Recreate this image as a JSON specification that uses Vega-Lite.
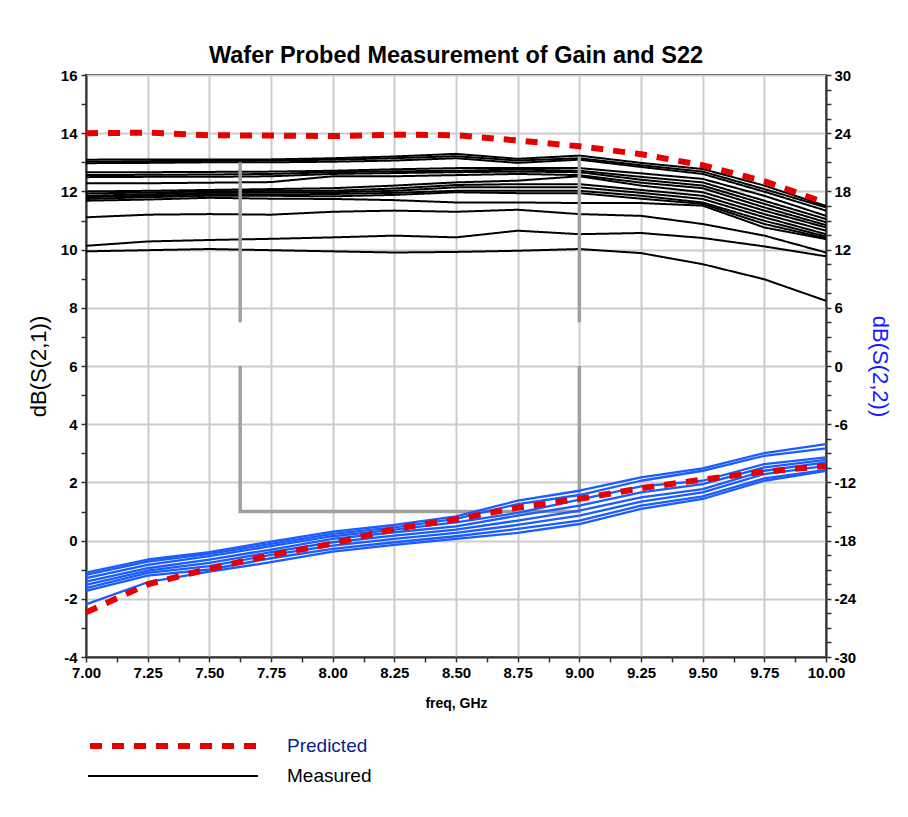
{
  "$schema": "https://vega.github.io/schema/vega-lite/v6.json",
  "width": 740,
  "height": 582,
  "autosize": {"type": "none"},
  "padding": {"left": 86, "top": 75, "right": 82, "bottom": 160},
  "background": "white",
  "title": {
    "text": "Wafer Probed Measurement of Gain and S22",
    "font": "Liberation Sans",
    "fontSize": 23.5,
    "fontWeight": "bold",
    "color": "black",
    "anchor": "middle",
    "offset": 1
  },
  "config": {
    "font": "Liberation Sans",
    "view": {"stroke": "#222222", "strokeWidth": 2},
    "axis": {
      "labelFont": "Liberation Sans",
      "labelFontWeight": "bold",
      "labelFontSize": 15,
      "labelColor": "black",
      "labelOverlap": false,
      "labelFlush": false,
      "domainColor": "#333333",
      "domainWidth": 2,
      "tickColor": "#333333",
      "tickWidth": 1.5,
      "tickSize": 5,
      "gridColor": "#cccccc",
      "gridWidth": 2,
      "titleFont": "Liberation Sans",
      "titleColor": "black"
    },
    "legend": {
      "orient": "none",
      "legendX": 1,
      "padding": 0,
      "symbolType": "stroke",
      "symbolSize": 28900,
      "clipHeight": 20,
      "labelFont": "Liberation Sans",
      "labelFontSize": 19,
      "title": null
    }
  },
  "datasets": {
    "gainMeas": [
      {"f": 7, "v": 13.09, "trace": "W01"}, {"f": 7.25, "v": 13.1, "trace": "W01"}, {"f": 7.5, "v": 13.1, "trace": "W01"}, {"f": 7.75, "v": 13.1, "trace": "W01"}, {"f": 8, "v": 13.14, "trace": "W01"}, {"f": 8.25, "v": 13.2, "trace": "W01"}, {"f": 8.5, "v": 13.29, "trace": "W01"}, {"f": 8.75, "v": 13.12, "trace": "W01"}, {"f": 9, "v": 13.23, "trace": "W01"}, {"f": 9.25, "v": 12.98, "trace": "W01"}, {"f": 9.5, "v": 12.77, "trace": "W01"}, {"f": 9.75, "v": 12.2, "trace": "W01"}, {"f": 10, "v": 11.5, "trace": "W01"},
      {"f": 7, "v": 13.02, "trace": "W02"}, {"f": 7.25, "v": 13.04, "trace": "W02"}, {"f": 7.5, "v": 13.05, "trace": "W02"}, {"f": 7.75, "v": 13.06, "trace": "W02"}, {"f": 8, "v": 13.09, "trace": "W02"}, {"f": 8.25, "v": 13.14, "trace": "W02"}, {"f": 8.5, "v": 13.21, "trace": "W02"}, {"f": 8.75, "v": 13.06, "trace": "W02"}, {"f": 9, "v": 13.14, "trace": "W02"}, {"f": 9.25, "v": 12.9, "trace": "W02"}, {"f": 9.5, "v": 12.68, "trace": "W02"}, {"f": 9.75, "v": 12.08, "trace": "W02"}, {"f": 10, "v": 11.45, "trace": "W02"},
      {"f": 7, "v": 12.97, "trace": "W03"}, {"f": 7.25, "v": 12.98, "trace": "W03"}, {"f": 7.5, "v": 13.0, "trace": "W03"}, {"f": 7.75, "v": 13.0, "trace": "W03"}, {"f": 8, "v": 13.02, "trace": "W03"}, {"f": 8.25, "v": 13.06, "trace": "W03"}, {"f": 8.5, "v": 13.14, "trace": "W03"}, {"f": 8.75, "v": 12.98, "trace": "W03"}, {"f": 9, "v": 13.09, "trace": "W03"}, {"f": 9.25, "v": 12.84, "trace": "W03"}, {"f": 9.5, "v": 12.6, "trace": "W03"}, {"f": 9.75, "v": 11.99, "trace": "W03"}, {"f": 10, "v": 11.34, "trace": "W03"},
      {"f": 7, "v": 12.66, "trace": "W04"}, {"f": 7.25, "v": 12.66, "trace": "W04"}, {"f": 7.5, "v": 12.67, "trace": "W04"}, {"f": 7.75, "v": 12.68, "trace": "W04"}, {"f": 8, "v": 12.71, "trace": "W04"}, {"f": 8.25, "v": 12.76, "trace": "W04"}, {"f": 8.5, "v": 12.8, "trace": "W04"}, {"f": 8.75, "v": 12.8, "trace": "W04"}, {"f": 9, "v": 12.8, "trace": "W04"}, {"f": 9.25, "v": 12.62, "trace": "W04"}, {"f": 9.5, "v": 12.43, "trace": "W04"}, {"f": 9.75, "v": 11.85, "trace": "W04"}, {"f": 10, "v": 11.16, "trace": "W04"},
      {"f": 7, "v": 12.56, "trace": "W05"}, {"f": 7.25, "v": 12.57, "trace": "W05"}, {"f": 7.5, "v": 12.58, "trace": "W05"}, {"f": 7.75, "v": 12.6, "trace": "W05"}, {"f": 8, "v": 12.66, "trace": "W05"}, {"f": 8.25, "v": 12.69, "trace": "W05"}, {"f": 8.5, "v": 12.71, "trace": "W05"}, {"f": 8.75, "v": 12.75, "trace": "W05"}, {"f": 9, "v": 12.71, "trace": "W05"}, {"f": 9.25, "v": 12.5, "trace": "W05"}, {"f": 9.5, "v": 12.31, "trace": "W05"}, {"f": 9.75, "v": 11.68, "trace": "W05"}, {"f": 10, "v": 11.05, "trace": "W05"},
      {"f": 7, "v": 12.49, "trace": "W06"}, {"f": 7.25, "v": 12.5, "trace": "W06"}, {"f": 7.5, "v": 12.5, "trace": "W06"}, {"f": 7.75, "v": 12.52, "trace": "W06"}, {"f": 8, "v": 12.6, "trace": "W06"}, {"f": 8.25, "v": 12.63, "trace": "W06"}, {"f": 8.5, "v": 12.66, "trace": "W06"}, {"f": 8.75, "v": 12.68, "trace": "W06"}, {"f": 9, "v": 12.66, "trace": "W06"}, {"f": 9.25, "v": 12.4, "trace": "W06"}, {"f": 9.5, "v": 12.2, "trace": "W06"}, {"f": 9.75, "v": 11.57, "trace": "W06"}, {"f": 10, "v": 10.94, "trace": "W06"},
      {"f": 7, "v": 12.28, "trace": "W07"}, {"f": 7.25, "v": 12.28, "trace": "W07"}, {"f": 7.5, "v": 12.3, "trace": "W07"}, {"f": 7.75, "v": 12.32, "trace": "W07"}, {"f": 8, "v": 12.52, "trace": "W07"}, {"f": 8.25, "v": 12.52, "trace": "W07"}, {"f": 8.5, "v": 12.56, "trace": "W07"}, {"f": 8.75, "v": 12.6, "trace": "W07"}, {"f": 9, "v": 12.56, "trace": "W07"}, {"f": 9.25, "v": 12.3, "trace": "W07"}, {"f": 9.5, "v": 12.11, "trace": "W07"}, {"f": 9.75, "v": 11.45, "trace": "W07"}, {"f": 10, "v": 10.84, "trace": "W07"},
      {"f": 7, "v": 12.0, "trace": "W08"}, {"f": 7.25, "v": 12.02, "trace": "W08"}, {"f": 7.5, "v": 12.05, "trace": "W08"}, {"f": 7.75, "v": 12.08, "trace": "W08"}, {"f": 8, "v": 12.11, "trace": "W08"}, {"f": 8.25, "v": 12.2, "trace": "W08"}, {"f": 8.5, "v": 12.31, "trace": "W08"}, {"f": 8.75, "v": 12.37, "trace": "W08"}, {"f": 9, "v": 12.52, "trace": "W08"}, {"f": 9.25, "v": 12.2, "trace": "W08"}, {"f": 9.5, "v": 11.97, "trace": "W08"}, {"f": 9.75, "v": 11.34, "trace": "W08"}, {"f": 10, "v": 10.76, "trace": "W08"},
      {"f": 7, "v": 11.93, "trace": "W09"}, {"f": 7.25, "v": 11.96, "trace": "W09"}, {"f": 7.5, "v": 12.0, "trace": "W09"}, {"f": 7.75, "v": 12.02, "trace": "W09"}, {"f": 8, "v": 12.02, "trace": "W09"}, {"f": 8.25, "v": 12.1, "trace": "W09"}, {"f": 8.5, "v": 12.22, "trace": "W09"}, {"f": 8.75, "v": 12.25, "trace": "W09"}, {"f": 9, "v": 12.25, "trace": "W09"}, {"f": 9.25, "v": 12.05, "trace": "W09"}, {"f": 9.5, "v": 11.85, "trace": "W09"}, {"f": 9.75, "v": 11.22, "trace": "W09"}, {"f": 10, "v": 10.65, "trace": "W09"},
      {"f": 7, "v": 11.85, "trace": "W10"}, {"f": 7.25, "v": 11.9, "trace": "W10"}, {"f": 7.5, "v": 11.95, "trace": "W10"}, {"f": 7.75, "v": 11.97, "trace": "W10"}, {"f": 8, "v": 11.97, "trace": "W10"}, {"f": 8.25, "v": 12.02, "trace": "W10"}, {"f": 8.5, "v": 12.14, "trace": "W10"}, {"f": 8.75, "v": 12.14, "trace": "W10"}, {"f": 9, "v": 12.14, "trace": "W10"}, {"f": 9.25, "v": 11.95, "trace": "W10"}, {"f": 9.5, "v": 11.74, "trace": "W10"}, {"f": 9.75, "v": 11.11, "trace": "W10"}, {"f": 10, "v": 10.53, "trace": "W10"},
      {"f": 7, "v": 11.8, "trace": "W11"}, {"f": 7.25, "v": 11.85, "trace": "W11"}, {"f": 7.5, "v": 11.9, "trace": "W11"}, {"f": 7.75, "v": 11.9, "trace": "W11"}, {"f": 8, "v": 11.91, "trace": "W11"}, {"f": 8.25, "v": 11.95, "trace": "W11"}, {"f": 8.5, "v": 12.02, "trace": "W11"}, {"f": 8.75, "v": 12.02, "trace": "W11"}, {"f": 9, "v": 12.02, "trace": "W11"}, {"f": 9.25, "v": 11.85, "trace": "W11"}, {"f": 9.5, "v": 11.62, "trace": "W11"}, {"f": 9.75, "v": 10.99, "trace": "W11"}, {"f": 10, "v": 10.45, "trace": "W11"},
      {"f": 7, "v": 11.74, "trace": "W12"}, {"f": 7.25, "v": 11.8, "trace": "W12"}, {"f": 7.5, "v": 11.85, "trace": "W12"}, {"f": 7.75, "v": 11.85, "trace": "W12"}, {"f": 8, "v": 11.83, "trace": "W12"}, {"f": 8.25, "v": 11.88, "trace": "W12"}, {"f": 8.5, "v": 11.97, "trace": "W12"}, {"f": 8.75, "v": 11.94, "trace": "W12"}, {"f": 9, "v": 11.94, "trace": "W12"}, {"f": 9.25, "v": 11.75, "trace": "W12"}, {"f": 9.5, "v": 11.57, "trace": "W12"}, {"f": 9.75, "v": 10.88, "trace": "W12"}, {"f": 10, "v": 10.39, "trace": "W12"},
      {"f": 7, "v": 11.68, "trace": "W13"}, {"f": 7.25, "v": 11.72, "trace": "W13"}, {"f": 7.5, "v": 11.78, "trace": "W13"}, {"f": 7.75, "v": 11.75, "trace": "W13"}, {"f": 8, "v": 11.74, "trace": "W13"}, {"f": 8.25, "v": 11.7, "trace": "W13"}, {"f": 8.5, "v": 11.62, "trace": "W13"}, {"f": 8.75, "v": 11.62, "trace": "W13"}, {"f": 9, "v": 11.6, "trace": "W13"}, {"f": 9.25, "v": 11.6, "trace": "W13"}, {"f": 9.5, "v": 11.51, "trace": "W13"}, {"f": 9.75, "v": 10.76, "trace": "W13"}, {"f": 10, "v": 10.36, "trace": "W13"},
      {"f": 7, "v": 11.11, "trace": "W14"}, {"f": 7.25, "v": 11.2, "trace": "W14"}, {"f": 7.5, "v": 11.22, "trace": "W14"}, {"f": 7.75, "v": 11.2, "trace": "W14"}, {"f": 8, "v": 11.3, "trace": "W14"}, {"f": 8.25, "v": 11.34, "trace": "W14"}, {"f": 8.5, "v": 11.3, "trace": "W14"}, {"f": 8.75, "v": 11.37, "trace": "W14"}, {"f": 9, "v": 11.22, "trace": "W14"}, {"f": 9.25, "v": 11.16, "trace": "W14"}, {"f": 9.5, "v": 10.88, "trace": "W14"}, {"f": 9.75, "v": 10.48, "trace": "W14"}, {"f": 10, "v": 9.9, "trace": "W14"},
      {"f": 7, "v": 10.13, "trace": "W15"}, {"f": 7.25, "v": 10.28, "trace": "W15"}, {"f": 7.5, "v": 10.33, "trace": "W15"}, {"f": 7.75, "v": 10.37, "trace": "W15"}, {"f": 8, "v": 10.42, "trace": "W15"}, {"f": 8.25, "v": 10.48, "trace": "W15"}, {"f": 8.5, "v": 10.42, "trace": "W15"}, {"f": 8.75, "v": 10.65, "trace": "W15"}, {"f": 9, "v": 10.53, "trace": "W15"}, {"f": 9.25, "v": 10.57, "trace": "W15"}, {"f": 9.5, "v": 10.4, "trace": "W15"}, {"f": 9.75, "v": 10.11, "trace": "W15"}, {"f": 10, "v": 9.77, "trace": "W15"},
      {"f": 7, "v": 9.94, "trace": "W16"}, {"f": 7.25, "v": 9.98, "trace": "W16"}, {"f": 7.5, "v": 10.02, "trace": "W16"}, {"f": 7.75, "v": 9.98, "trace": "W16"}, {"f": 8, "v": 9.94, "trace": "W16"}, {"f": 8.25, "v": 9.9, "trace": "W16"}, {"f": 8.5, "v": 9.92, "trace": "W16"}, {"f": 8.75, "v": 9.96, "trace": "W16"}, {"f": 9, "v": 10.02, "trace": "W16"}, {"f": 9.25, "v": 9.88, "trace": "W16"}, {"f": 9.5, "v": 9.5, "trace": "W16"}, {"f": 9.75, "v": 8.98, "trace": "W16"}, {"f": 10, "v": 8.24, "trace": "W16"}
    ],
    "gainPred": [
      {"f": 7, "v": 14.0}, {"f": 7.25, "v": 14.02}, {"f": 7.5, "v": 13.93}, {"f": 7.75, "v": 13.92}, {"f": 8, "v": 13.9}, {"f": 8.25, "v": 13.95}, {"f": 8.5, "v": 13.93}, {"f": 8.75, "v": 13.75}, {"f": 9, "v": 13.55}, {"f": 9.25, "v": 13.28}, {"f": 9.5, "v": 12.9}, {"f": 9.75, "v": 12.35}, {"f": 10, "v": 11.6}
    ],
    "s22Meas": [
      {"f": 7, "v": -21.3, "trace": "W01"}, {"f": 7.25, "v": -19.95, "trace": "W01"}, {"f": 7.5, "v": -19.2, "trace": "W01"}, {"f": 7.75, "v": -18.1, "trace": "W01"}, {"f": 8, "v": -17.07, "trace": "W01"}, {"f": 8.25, "v": -16.39, "trace": "W01"}, {"f": 8.5, "v": -15.5, "trace": "W01"}, {"f": 8.75, "v": -13.89, "trace": "W01"}, {"f": 9, "v": -12.86, "trace": "W01"}, {"f": 9.25, "v": -11.49, "trace": "W01"}, {"f": 9.5, "v": -10.56, "trace": "W01"}, {"f": 9.75, "v": -8.98, "trace": "W01"}, {"f": 10, "v": -8.06, "trace": "W01"},
      {"f": 7, "v": -21.53, "trace": "W02"}, {"f": 7.25, "v": -20.16, "trace": "W02"}, {"f": 7.5, "v": -19.37, "trace": "W02"}, {"f": 7.75, "v": -18.34, "trace": "W02"}, {"f": 8, "v": -17.31, "trace": "W02"}, {"f": 8.25, "v": -16.63, "trace": "W02"}, {"f": 8.5, "v": -15.77, "trace": "W02"}, {"f": 8.75, "v": -14.23, "trace": "W02"}, {"f": 9, "v": -13.3, "trace": "W02"}, {"f": 9.25, "v": -11.83, "trace": "W02"}, {"f": 9.5, "v": -10.8, "trace": "W02"}, {"f": 9.75, "v": -9.26, "trace": "W02"}, {"f": 10, "v": -8.5, "trace": "W02"},
      {"f": 7, "v": -21.88, "trace": "W03"}, {"f": 7.25, "v": -20.5, "trace": "W03"}, {"f": 7.5, "v": -19.61, "trace": "W03"}, {"f": 7.75, "v": -18.58, "trace": "W03"}, {"f": 8, "v": -17.55, "trace": "W03"}, {"f": 8.25, "v": -16.87, "trace": "W03"}, {"f": 8.5, "v": -16.11, "trace": "W03"}, {"f": 8.75, "v": -15.15, "trace": "W03"}, {"f": 9, "v": -13.78, "trace": "W03"}, {"f": 9.25, "v": -12.41, "trace": "W03"}, {"f": 9.5, "v": -11.83, "trace": "W03"}, {"f": 9.75, "v": -10.11, "trace": "W03"}, {"f": 10, "v": -9.43, "trace": "W03"},
      {"f": 7, "v": -22.22, "trace": "W04"}, {"f": 7.25, "v": -20.85, "trace": "W04"}, {"f": 7.5, "v": -19.95, "trace": "W04"}, {"f": 7.75, "v": -18.93, "trace": "W04"}, {"f": 8, "v": -17.83, "trace": "W04"}, {"f": 8.25, "v": -17.14, "trace": "W04"}, {"f": 8.5, "v": -16.53, "trace": "W04"}, {"f": 8.75, "v": -15.43, "trace": "W04"}, {"f": 9, "v": -14.4, "trace": "W04"}, {"f": 9.25, "v": -13.03, "trace": "W04"}, {"f": 9.5, "v": -12.17, "trace": "W04"}, {"f": 9.75, "v": -10.46, "trace": "W04"}, {"f": 10, "v": -9.67, "trace": "W04"},
      {"f": 7, "v": -22.56, "trace": "W05"}, {"f": 7.25, "v": -21.09, "trace": "W05"}, {"f": 7.5, "v": -20.3, "trace": "W05"}, {"f": 7.75, "v": -19.2, "trace": "W05"}, {"f": 8, "v": -18.17, "trace": "W05"}, {"f": 8.25, "v": -17.49, "trace": "W05"}, {"f": 8.5, "v": -16.87, "trace": "W05"}, {"f": 8.75, "v": -15.94, "trace": "W05"}, {"f": 9, "v": -14.91, "trace": "W05"}, {"f": 9.25, "v": -13.54, "trace": "W05"}, {"f": 9.5, "v": -12.69, "trace": "W05"}, {"f": 9.75, "v": -10.8, "trace": "W05"}, {"f": 10, "v": -9.94, "trace": "W05"},
      {"f": 7, "v": -22.9, "trace": "W06"}, {"f": 7.25, "v": -21.33, "trace": "W06"}, {"f": 7.5, "v": -20.64, "trace": "W06"}, {"f": 7.75, "v": -19.48, "trace": "W06"}, {"f": 8, "v": -18.52, "trace": "W06"}, {"f": 8.25, "v": -17.83, "trace": "W06"}, {"f": 8.5, "v": -17.21, "trace": "W06"}, {"f": 8.75, "v": -16.39, "trace": "W06"}, {"f": 9, "v": -15.43, "trace": "W06"}, {"f": 9.25, "v": -13.99, "trace": "W06"}, {"f": 9.5, "v": -13.03, "trace": "W06"}, {"f": 9.75, "v": -11.14, "trace": "W06"}, {"f": 10, "v": -10.29, "trace": "W06"},
      {"f": 7, "v": -23.18, "trace": "W07"}, {"f": 7.25, "v": -21.6, "trace": "W07"}, {"f": 7.5, "v": -20.98, "trace": "W07"}, {"f": 7.75, "v": -19.82, "trace": "W07"}, {"f": 8, "v": -18.86, "trace": "W07"}, {"f": 8.25, "v": -18.17, "trace": "W07"}, {"f": 8.5, "v": -17.55, "trace": "W07"}, {"f": 8.75, "v": -16.8, "trace": "W07"}, {"f": 9, "v": -15.94, "trace": "W07"}, {"f": 9.25, "v": -14.4, "trace": "W07"}, {"f": 9.5, "v": -13.44, "trace": "W07"}, {"f": 9.75, "v": -11.59, "trace": "W07"}, {"f": 10, "v": -10.7, "trace": "W07"},
      {"f": 7, "v": -24.58, "trace": "W08"}, {"f": 7.25, "v": -22.29, "trace": "W08"}, {"f": 7.5, "v": -21.19, "trace": "W08"}, {"f": 7.75, "v": -20.23, "trace": "W08"}, {"f": 8, "v": -19.13, "trace": "W08"}, {"f": 8.25, "v": -18.45, "trace": "W08"}, {"f": 8.5, "v": -17.83, "trace": "W08"}, {"f": 8.75, "v": -17.21, "trace": "W08"}, {"f": 9, "v": -16.29, "trace": "W08"}, {"f": 9.25, "v": -14.74, "trace": "W08"}, {"f": 9.5, "v": -13.71, "trace": "W08"}, {"f": 9.75, "v": -11.83, "trace": "W08"}, {"f": 10, "v": -10.8, "trace": "W08"}
    ],
    "s22Pred": [
      {"f": 7, "v": -25.4}, {"f": 7.25, "v": -22.5}, {"f": 7.5, "v": -20.9}, {"f": 7.75, "v": -19.5}, {"f": 8, "v": -18.3}, {"f": 8.25, "v": -16.8}, {"f": 8.5, "v": -15.8}, {"f": 8.75, "v": -14.6}, {"f": 9, "v": -13.7}, {"f": 9.25, "v": -12.6}, {"f": 9.5, "v": -11.7}, {"f": 9.75, "v": -10.9}, {"f": 10, "v": -10.3}
    ],
    "specMask": [
      {"f": 7.625, "v": 13.0, "seg": "a", "i": 1}, {"f": 7.625, "v": 7.5, "seg": "a", "i": 2},
      {"f": 7.625, "v": 6.0, "seg": "b", "i": 1}, {"f": 7.625, "v": 1.0, "seg": "b", "i": 2}, {"f": 9.0, "v": 1.0, "seg": "b", "i": 3}, {"f": 9.0, "v": 6.0, "seg": "b", "i": 4},
      {"f": 9.0, "v": 7.5, "seg": "c", "i": 1}, {"f": 9.0, "v": 13.2, "seg": "c", "i": 2}
    ]
  },
  "encoding": {
    "x": {
      "field": "f",
      "type": "quantitative",
      "scale": {"domain": [7, 10], "nice": false, "zero": false},
      "axis": {
        "values": [7, 7.125, 7.25, 7.375, 7.5, 7.625, 7.75, 7.875, 8, 8.125, 8.25, 8.375, 8.5, 8.625, 8.75, 8.875, 9, 9.125, 9.25, 9.375, 9.5, 9.625, 9.75, 9.875, 10],
        "labelExpr": "(datum.value * 4) % 1 === 0 ? format(datum.value, '.2f') : ''",
        "gridOpacity": {"condition": {"test": "(datum.value * 4) % 1 !== 0", "value": 0}, "value": 1},
        "labelPadding": 3,
        "title": "freq, GHz",
        "titleFontSize": 14,
        "titleFontWeight": "bold",
        "titlePadding": 16
      }
    }
  },
  "layer": [
    {
      "encoding": {
        "y": {
          "field": "v",
          "type": "quantitative",
          "scale": {"domain": [-4, 16], "nice": false, "zero": false},
          "axis": {
            "orient": "left",
            "values": [-4, -3, -2, -1, 0, 1, 2, 3, 4, 5, 6, 7, 8, 9, 10, 11, 12, 13, 14, 15, 16],
            "labelExpr": "datum.value % 2 === 0 ? '' + datum.value : ''",
            "gridOpacity": {"condition": {"test": "datum.value % 2 !== 0", "value": 0}, "value": 1},
            "labelPadding": 4,
            "title": "dB(S(2,1))",
            "titleFontSize": 22,
            "titleFontWeight": "normal",
            "titlePadding": 10
          }
        }
      },
      "layer": [
        {
          "data": {"name": "gainMeas"},
          "mark": {"type": "line", "color": "black", "strokeWidth": 2, "strokeJoin": "round"},
          "encoding": {
            "detail": {"field": "trace", "type": "nominal"},
            "strokeDash": {
              "datum": "Measured",
              "type": "nominal",
              "scale": {"domain": ["Measured"], "range": [[1, 0]]},
              "legend": {
                "legendY": 691,
                "symbolStrokeColor": "black",
                "symbolStrokeWidth": 2,
                "labelOffset": 28,
                "labelColor": "black"
              }
            }
          }
        },
        {
          "data": {"name": "specMask"},
          "mark": {"type": "line", "color": "#a0a0a0", "strokeWidth": 3.5, "strokeCap": "butt"},
          "encoding": {
            "detail": {"field": "seg", "type": "nominal"},
            "order": {"field": "i", "type": "quantitative"}
          }
        },
        {
          "data": {"name": "gainPred"},
          "mark": {"type": "line", "strokeWidth": 6, "strokeDash": [12, 10], "strokeCap": "butt"},
          "encoding": {
            "color": {
              "datum": "Predicted",
              "type": "nominal",
              "scale": {"domain": ["Predicted"], "range": ["#e60000"]},
              "legend": {
                "legendY": 661,
                "symbolDash": [12, 10],
                "symbolStrokeWidth": 6,
                "labelOffset": 24,
                "labelColor": "#0a1f8f"
              }
            }
          }
        }
      ]
    },
    {
      "encoding": {
        "y": {
          "field": "v",
          "type": "quantitative",
          "scale": {"domain": [-30, 30], "nice": false, "zero": false},
          "axis": {
            "orient": "right",
            "values": [-30, -28.5, -27, -25.5, -24, -22.5, -21, -19.5, -18, -16.5, -15, -13.5, -12, -10.5, -9, -7.5, -6, -4.5, -3, -1.5, 0, 1.5, 3, 4.5, 6, 7.5, 9, 10.5, 12, 13.5, 15, 16.5, 18, 19.5, 21, 22.5, 24, 25.5, 27, 28.5, 30],
            "labelExpr": "datum.value % 6 === 0 ? '' + datum.value : ''",
            "grid": false,
            "labelPadding": 3,
            "title": "dB(S(2,2))",
            "titleFontSize": 22,
            "titleFontWeight": "normal",
            "titleColor": "#1a1aff",
            "titlePadding": 12
          }
        }
      },
      "layer": [
        {
          "data": {"name": "s22Meas"},
          "mark": {"type": "line", "color": "#1a5cff", "strokeWidth": 2.3, "strokeJoin": "round"},
          "encoding": {
            "detail": {"field": "trace", "type": "nominal"}
          }
        },
        {
          "data": {"name": "s22Pred"},
          "mark": {"type": "line", "color": "#e60000", "strokeWidth": 6, "strokeDash": [12, 10], "strokeCap": "butt"},
          "encoding": {}
        }
      ]
    }
  ],
  "resolve": {"scale": {"y": "independent"}}
}
